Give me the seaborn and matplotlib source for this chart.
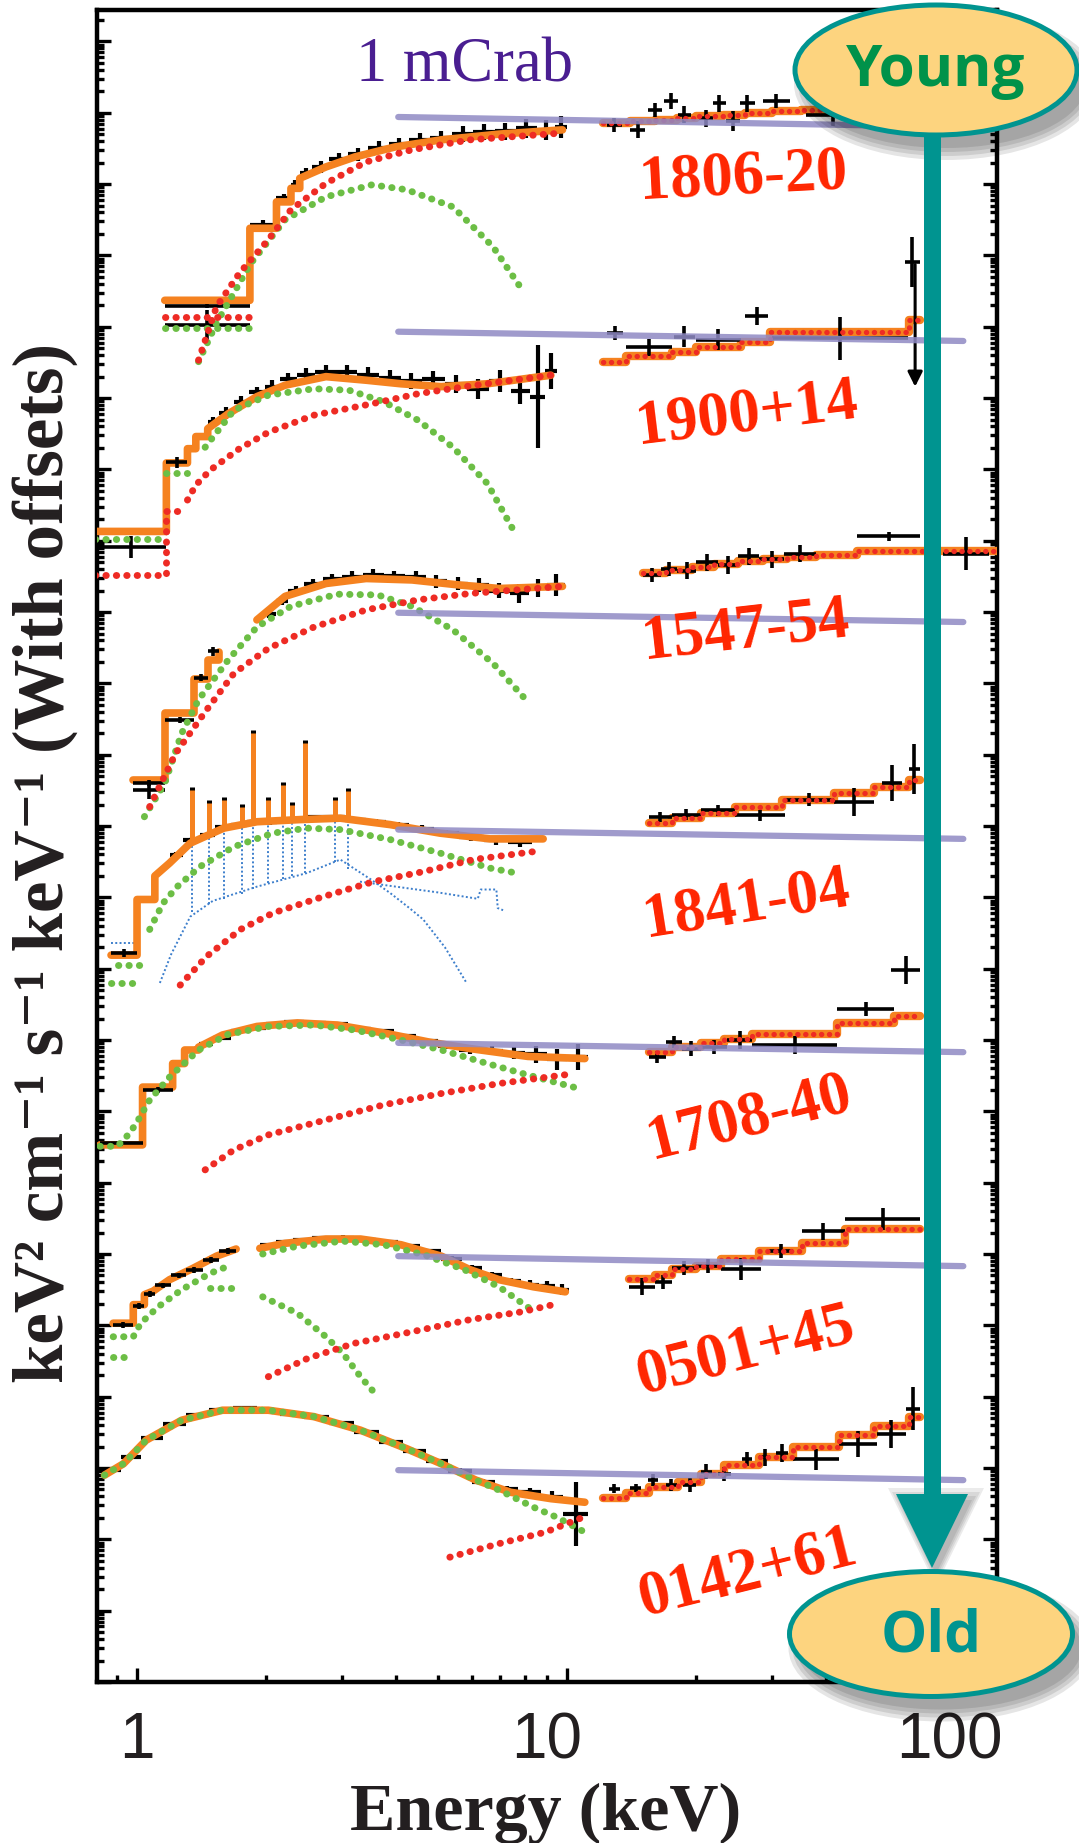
"""
Broad-band spectra of seven magnetars, stacked with offsets (Young -> Old).
"""

import numpy as np
import matplotlib
matplotlib.use("Agg")
import matplotlib.pyplot as plt
import matplotlib.patches as mpatches
from matplotlib.ticker import FixedLocator, LogLocator, NullFormatter
import seaborn as sns

nan = np.nan

# ---------------------------------------------------------------- data
# all fluxes are log10(keV^2 cm^-2 s^-1 keV^-1) plus an arbitrary offset
names = ["1806-20", "1900+14", "1547-54", "1841-04", "1708-40", "0501+45", "0142+61"]

# 1 mCrab reference, 4 -> 84 keV
mcrab_e = [4.05, 83.5]
mcrab_lo = [21.94, 18.93, 14.99, 11.95, 8.96, 5.97, 2.97]
mcrab_hi = [21.80, 18.80, 14.86, 11.82, 8.83, 5.83, 2.83]

# --- SGR 1806-20
p1_tot_e = [1.16, 1.83, 1.83, 2.11, 2.11, 2.28, 2.28, 2.39, 2.39, 2.75, 3.21, 3.98, 5.1, 6.95, 9.76]
p1_tot_y = [19.37, 19.37, 20.38, 20.38, 20.75, 20.75, 20.94, 20.94, 21.08, 21.24, 21.38, 21.52, 21.62, 21.70, 21.76]
p1_bb_e = [1.16, 1.83, nan, 1.39, 1.53, 1.84, 2.21, 2.75, 3.52, 4.24, 5.43, 6.73, 7.86]
p1_bb_y = [18.98, 18.98, nan, 18.51, 19.05, 19.89, 20.50, 20.82, 20.99, 20.92, 20.68, 20.12, 19.52]
p1_pl_e = [1.16, 1.83, nan, 1.39, 1.53, 1.73, 2.02, 2.28, 2.75, 3.41, 4.36, 5.95, 9.5]
p1_pl_y = [19.14, 19.14, nan, 18.53, 19.28, 19.75, 20.22, 20.64, 21.01, 21.31, 21.48, 21.62, 21.71]
p1_hx_e = [12.1, 14, 16, 18, 20, 23, 26, 30, 35, 41, 48, 57, 68, 80]
p1_hx_y = [21.85, 21.88, 21.90, 21.93, 21.95, 21.97, 22.00, 22.02, 22.04, 22.06, 22.09, 22.11, 22.14]
p1_d_e = [1.83, 2.11, 2.28, 2.39, 2.55, 2.8, 3.1, 3.45, 3.85, 4.3, 4.8, 5.4, 6.05, 6.8, 7.6, 8.5, 9.4, 10.0]
p1_d_y = [20.43, 20.80, 20.99, 21.15, 21.24, 21.35, 21.42, 21.51, 21.56, 21.62, 21.64, 21.70, 21.73, 21.74, 21.78, 21.76, 21.80]
p1_d_err = [.06, .06, .07, .08, .08, .08, .09, .09, .09, .10, .10, .11, .11, .12, .13, .14, .15]
p1_x_lo = [1.16, 1.16, 12.4, 14.0, 15.4, 16.8, 18.1, 20.3, 21.8, 23.4, 25.2, 28.5, 36.0]
p1_x_hi = [1.83, 1.83, 13.4, 15.2, 16.6, 18.1, 19.4, 21.8, 23.4, 25.2, 27.3, 33.0, 48.0]
p1_x_y = [19.29, 19.02, 21.83, 21.76, 22.04, 22.16, 21.97, 21.92, 22.13, 21.88, 22.13, 22.16, 21.97]
p1_x_err = [.03, .22, .10, .12, .10, .11, .12, .12, .12, .14, .12, .10, .15]

# --- SGR 1900+14
p2_tot_e = [0.80, 1.17, 1.17, 1.31, 1.31, 1.37, 1.37, 1.46, 1.46, 1.63, 1.90, 2.21, 2.75, 3.41, 4.11, 5.1, 6.53, 9.17]
p2_tot_y = [16.13, 16.13, 17.09, 17.09, 17.29, 17.29, 17.46, 17.46, 17.57, 17.78, 18.02, 18.18, 18.30, 18.25, 18.20, 18.16, 18.20, 18.32]
p2_bb_e = [0.80, 1.17, nan, 1.17, 1.31, nan, 1.44, 1.68, 2.02, 2.58, 3.11, 3.74, 4.5, 5.43, 6.53, 7.5]
p2_bb_y = [16.02, 16.02, nan, 16.95, 16.95, nan, 17.31, 17.83, 18.04, 18.13, 18.11, 17.95, 17.69, 17.31, 16.80, 16.15]
p2_pl_e = [0.80, 1.17, 1.17, 1.31, nan, 1.31, 1.37, 1.48, 1.73, 2.02, 2.58, 3.52, 4.5, 5.95, 9.17]
p2_pl_y = [15.52, 15.52, 16.41, 16.41, nan, 16.57, 16.78, 16.99, 17.29, 17.52, 17.76, 17.92, 18.06, 18.17, 18.32]
p2_hx_e = [12.1, 13.7, 17.5, 19.9, 25.4, 29.7, 62.3, 66.3]
p2_hx_y = [18.51, 18.59, 18.65, 18.71, 18.79, 18.92, 19.10]
p2_d_e = [1.46, 1.55, 1.68, 1.82, 1.98, 2.15, 2.35, 2.6, 2.9, 3.25, 3.65, 4.1, 4.6, 5.2, 5.85, 6.6, 7.4, 8.2, 8.9, 9.5]
p2_d_y = [17.66, 17.79, 17.95, 18.08, 18.16, 18.26, 18.33, 18.36, 18.37, 18.33, 18.28, 18.24, 18.26, 18.20, 18.12, 18.24, 18.10, 18.02, 18.38]
p2_d_err = [.07, .08, .08, .08, .09, .09, .09, .10, .10, .10, .11, .11, .12, .13, .14, .16, .18, .72, .25]
p2_x_lo = [0.80, 1.17, 12.4, 13.7, 17.7, 19.9, 26.0, 30.0, 61.0]
p2_x_hi = [1.17, 1.31, 13.5, 17.5, 19.8, 25.4, 29.3, 62.0, 66.3]
p2_x_y = [15.91, 17.10, 18.91, 18.71, 18.86, 18.82, 19.15, 18.84, 19.91]
p2_x_err = [.15, .08, .10, .12, .15, .15, .12, .30, .35]
p2_ul_e = 64.5
p2_ul_y = [19.91, 18.12]

# --- 1E 1547-54
p3_tot_e = [0.98, 1.16, 1.16, 1.36, 1.36, 1.46, 1.46, 1.55, 1.55, nan, 1.9, 2.21, 2.75, 3.41, 4.36, 5.6, 6.95, 9.76]
p3_tot_y = [12.65, 12.65, 13.59, 13.59, 14.06, 14.06, 14.33, 14.33, 14.44, nan, 14.89, 15.22, 15.40, 15.47, 15.45, 15.38, 15.33, 15.36]
p3_bb_e = [1.04, 1.16, 1.27, 1.39, 1.63, 1.9, 2.28, 2.92, 3.63, 4.36, 5.43, 6.73, 8.11]
p3_bb_y = [12.13, 12.60, 13.30, 13.77, 14.33, 14.79, 15.08, 15.25, 15.24, 15.08, 14.75, 14.28, 13.74]
p3_pl_e = [1.07, 1.23, 1.44, 1.68, 2.02, 2.58, 3.41, 4.5, 5.95, 9.76]
p3_pl_y = [12.27, 13.02, 13.60, 14.14, 14.49, 14.79, 15.03, 15.17, 15.26, 15.36]
p3_hx_e = [15.0, 17.0, 19.5, 22.0, 25.0, 28.5, 32.5, 37.9, 47.2, 100]
p3_hx_y = [15.55, 15.59, 15.63, 15.67, 15.71, 15.74, 15.77, 15.80, 15.85]
p3_d_e = [1.95, 2.1, 2.25, 2.45, 2.7, 3.0, 3.35, 3.75, 4.2, 4.7, 5.25, 5.9, 6.6, 7.35, 8.15, 9.0, 9.9]
p3_d_y = [14.97, 15.16, 15.30, 15.39, 15.46, 15.49, 15.52, 15.50, 15.49, 15.43, 15.40, 15.38, 15.30, 15.26, 15.34, 15.38]
p3_d_err = [.06, .06, .07, .07, .08, .08, .08, .08, .08, .09, .09, .10, .11, .13, .13, .15]
p3_x_lo = [0.98, 0.98, 1.16, 1.36, 1.46, 15.0, 16.5, 18.0, 20.0, 22.5, 25.0, 28.0, 32.0, 47.2, 75.0]
p3_x_hi = [1.16, 1.16, 1.36, 1.46, 1.55, 16.5, 18.0, 20.0, 22.5, 25.0, 28.0, 32.0, 37.9, 66.3, 95.7]
p3_x_y = [12.60, 12.50, 13.49, 14.08, 14.45, 15.52, 15.60, 15.58, 15.70, 15.66, 15.78, 15.74, 15.82, 16.06, 15.82]
p3_x_err = [.04, .12, .04, .05, .06, .10, .10, .12, .12, .12, .12, .12, .12, .06, .23]

# --- 1E 1841-045 (with the SNR Kes 73 thermal emission)
p4_tot_e = [0.87, 1.0, 1.0, 1.10, 1.10, 1.19, 1.33, 1.59, 1.90, 2.39, 2.97, 3.88, 5.07, 6.62, 8.8]
p4_tot_y = [10.19, 10.19, 10.97, 10.97, 11.30, 11.48, 11.76, 11.97, 12.06, 12.09, 12.11, 12.02, 11.90, 11.82, 11.82]
p4_line_e = [1.34, 1.47, 1.59, 1.75, 1.86, 2.02, 2.19, 2.29, 2.46, 2.89, 3.10]
p4_line_lo = [11.76, 11.86, 11.97, 12.02, 12.05, 12.07, 12.08, 12.09, 12.10, 12.11, 12.10]
p4_line_hi = [12.51, 12.32, 12.37, 12.27, 13.30, 12.37, 12.58, 12.30, 13.16, 12.37, 12.49]
p4_bb_e = [0.87, 1.0, nan, 0.905, 1.05, nan, 1.07, 1.15, 1.24, 1.40, 1.68, 2.07, 2.48, 2.97, 3.88, 5.07, 6.62, 7.64]
p4_bb_y = [9.80, 9.80, nan, 10.05, 10.05, nan, 10.55, 10.92, 11.15, 11.43, 11.71, 11.90, 11.97, 11.95, 11.81, 11.62, 11.41, 11.34]
p4_pl_e = [1.26, 1.45, 1.74, 2.07, 2.71, 3.55, 4.63, 6.06, 8.35]
p4_pl_y = [9.77, 10.17, 10.55, 10.78, 11.01, 11.22, 11.36, 11.53, 11.64]
p4_snr_e = [0.87, 1.0, nan, 1.13, 1.2, 1.33, 1.5, 1.9, 2.48, 2.97, 3.5, 3.88, 4.3, 4.63, 5.2, 5.84,
            nan, 3.3, 4.0, 5.0, 6.2, 6.3, 6.85, 6.9, 7.1]
p4_snr_y = [10.36, 10.36, nan, 9.80, 10.20, 10.73, 10.95, 11.15, 11.34, 11.53, 11.25, 11.06, 10.85, 10.69, 10.30, 9.80,
            nan, 11.22, 11.15, 11.07, 10.98, 11.11, 11.11, 10.85, 10.82]
p4_snr_line_lo = [10.80, 10.90, 10.98, 11.05, 11.12, 11.20, 11.26, 11.30, 11.34, 11.50, 11.40]
p4_hx_e = [15.5, 17.5, 20.5, 24.6, 31.6, 41.7, 51.8, 62.3, 66.3]
p4_hx_y = [12.04, 12.11, 12.18, 12.26, 12.37, 12.47, 12.55, 12.64]
p4_d_e = [1.19, 1.28, 1.40, 1.52, 1.65, 1.80, 1.95, 2.12, 2.3, 2.5, 2.75, 3.05, 3.4, 3.8, 4.3, 4.9, 5.6, 6.4, 7.3, 8.3]
p4_d_y = [11.60, 11.80, 11.87, 11.98, 12.02, 12.06, 12.06, 12.09, 12.10, 12.12, 12.12, 12.09, 12.06, 12.01, 11.96, 11.90, 11.84, 11.80, 11.78]
p4_d_err = [.04, .04, .04, .04, .04, .04, .04, .04, .04, .04, .04, .04, .04, .04, .05, .05, .05, .06, .07]
p4_x_lo = [0.87, 15.5, 17.5, 20.5, 24.6, 32.1, 41.7, 54.0, 62.3]
p4_x_hi = [1.0, 17.5, 20.5, 24.6, 32.1, 41.7, 51.8, 60.0, 66.3]
p4_x_y = [10.22, 12.13, 12.16, 12.22, 12.15, 12.37, 12.34, 12.60, 12.80]
p4_x_err = [.05, .07, .08, .08, .08, .09, .20, .25, .35]

# --- 1RXS J1708-40
p5_tot_e = [0.82, 1.03, 1.03, 1.21, 1.21, 1.29, 1.29, 1.39, 1.39, 1.58, 1.90, 2.36, 2.92, 3.74, 4.79, 5.95, 8.11, 11.0]
p5_tot_y = [7.53, 7.53, 8.34, 8.34, 8.67, 8.67, 8.86, 8.86, 8.90, 9.07, 9.19, 9.24, 9.21, 9.10, 8.97, 8.88, 8.77, 8.74]
p5_bb_e = [0.82, 0.9, 0.96, 1.0, 1.07, 1.19, 1.39, 1.63, 2.02, 2.58, 3.21, 4.11, 5.1, 6.53, 8.11, 10.5]
p5_bb_y = [7.51, 7.51, 7.69, 7.85, 8.16, 8.48, 8.86, 9.08, 9.19, 9.21, 9.14, 9.00, 8.86, 8.67, 8.51, 8.33]
p5_pl_e = [1.44, 1.68, 2.02, 2.75, 3.74, 5.1, 6.95, 10.4]
p5_pl_y = [7.18, 7.46, 7.67, 7.88, 8.09, 8.25, 8.39, 8.53]
p5_hx_e = [15.5, 17.5, 20.5, 23.2, 27.0, 42.4, 57.7, 66.3]
p5_hx_y = [8.83, 8.90, 8.96, 9.01, 9.09, 9.24, 9.33]
p5_d_e = [1.39, 1.5, 1.65, 1.82, 2.0, 2.2, 2.45, 2.75, 3.1, 3.5, 3.95, 4.45, 5.0, 5.6, 6.3, 7.1, 8.0, 9.0, 10.0, 11.2]
p5_d_y = [8.95, 9.03, 9.13, 9.17, 9.22, 9.25, 9.24, 9.22, 9.15, 9.12, 9.06, 8.98, 8.92, 8.86, 8.85, 8.82, 8.80, 8.73, 8.76]
p5_d_err = [.03, .03, .03, .03, .03, .03, .03, .03, .03, .03, .03, .03, .04, .05, .06, .08, .12, .15, .18]
p5_x_lo = [0.82, 1.03, 15.5, 17.0, 18.5, 20.5, 23.5, 27.0, 42.4, 56.8]
p5_x_hi = [1.03, 1.21, 17.0, 18.5, 20.5, 23.5, 27.0, 42.4, 57.7, 66.3]
p5_x_y = [7.55, 8.30, 8.76, 8.97, 8.88, 8.90, 9.00, 8.93, 9.44, 9.98]
p5_x_err = [.03, .04, .08, .08, .10, .10, .12, .12, .10, .20]

# --- SGR 0501+4516
p6_tot_e = [0.88, 0.98, 0.98, 1.04, 1.04, 1.09, 1.19, 1.35, 1.53, 1.70, nan,
            1.93, 2.21, 2.75, 3.31, 4.11, 5.1, 5.95, 6.95, 8.36, 9.91]
p6_tot_y = [5.03, 5.03, 5.29, 5.29, 5.43, 5.48, 5.64, 5.80, 5.97, 6.07, nan,
            6.08, 6.15, 6.21, 6.21, 6.13, 5.97, 5.78, 5.64, 5.54, 5.47]
p6_bb_e = [0.88, 0.98, nan, 0.88, 0.98, 1.02, 1.12, 1.27, 1.48, 1.63, nan, 1.48, 1.68, nan,
           1.96, 2.36, 3.01, 3.74, 4.65, 5.77, 6.95, 8.49, nan, 1.96, 2.36, 2.75, 3.01, 3.31, 3.63]
p6_bb_y = [4.56, 4.56, nan, 4.84, 4.84, 5.03, 5.26, 5.50, 5.73, 5.83, nan, 5.52, 5.52, nan,
           6.00, 6.11, 6.18, 6.13, 5.99, 5.78, 5.54, 5.17, nan, 5.40, 5.17, 4.84, 4.61, 4.28, 4.00]
p6_pl_e = [2.02, 2.5, 3.21, 4.36, 5.95, 7.86, 9.6]
p6_pl_y = [4.28, 4.54, 4.75, 4.91, 5.08, 5.19, 5.31]
p6_hx_e = [13.9, 16.0, 17.5, 19.9, 22.8, 27.9, 35.2, 44.3, 66.3]
p6_hx_y = [5.65, 5.71, 5.79, 5.83, 5.93, 6.04, 6.16, 6.35]
p6_d_e = [1.93, 2.1, 2.3, 2.55, 2.85, 3.2, 3.6, 4.05, 4.55, 5.1, 5.7, 6.35, 7.05, 7.8, 8.6, 9.4, 10.1]
p6_d_y = [6.13, 6.17, 6.20, 6.22, 6.23, 6.20, 6.17, 6.11, 6.04, 5.93, 5.80, 5.70, 5.62, 5.57, 5.55, 5.50]
p6_d_err = [.03, .03, .03, .03, .03, .03, .03, .03, .03, .04, .04, .05, .05, .06, .07, .08]
p6_x_lo = [0.88, 0.98, 1.04, 1.10, 1.20, 1.30, 1.42, 1.55, 13.9, 16.0, 17.5, 19.9, 22.8, 29.5, 35.2, 44.3]
p6_x_hi = [0.98, 1.04, 1.10, 1.20, 1.30, 1.42, 1.55, 1.70, 16.0, 17.5, 19.9, 22.8, 28.3, 33.5, 44.3, 66.3]
p6_x_y = [5.00, 5.27, 5.44, 5.56, 5.70, 5.78, 5.92, 6.04, 5.54, 5.61, 5.80, 5.83, 5.79, 6.04, 6.32, 6.49]
p6_x_err = [.04, .04, .04, .04, .04, .04, .04, .04, .12, .10, .10, .10, .15, .10, .12, .15]

# --- 4U 0142+61
p7_tot_e = [0.84, 0.93, 1.05, 1.27, 1.58, 2.02, 2.58, 3.31, 4.24, 5.1, 6.14, 7.39, 9.18, 11.0]
p7_tot_y = [2.90, 3.06, 3.39, 3.67, 3.81, 3.81, 3.72, 3.53, 3.27, 3.06, 2.83, 2.66, 2.57, 2.52]
p7_bb_e = [0.84, 0.93, 1.05, 1.27, 1.58, 2.02, 2.58, 3.31, 4.24, 5.1, 6.14, 6.95, 8.36, 9.46, 11.0]
p7_bb_y = [2.90, 3.06, 3.39, 3.67, 3.81, 3.81, 3.72, 3.53, 3.27, 3.06, 2.83, 2.69, 2.45, 2.31, 2.10]
p7_pl_e = [5.34, 6.95, 8.9, 10.9]
p7_pl_y = [1.75, 1.94, 2.10, 2.31]
p7_hx_e = [12.1, 13.7, 15.5, 18.1, 20.5, 23.2, 27.9, 33.6, 43.0, 51.8, 62.3, 66.3]
p7_hx_y = [2.58, 2.65, 2.73, 2.81, 2.92, 3.04, 3.16, 3.30, 3.46, 3.59, 3.72]
p7_d_e = [0.84, 0.92, 1.02, 1.15, 1.3, 1.47, 1.67, 1.9, 2.15, 2.45, 2.8, 3.2, 3.65, 4.15, 4.7, 5.3, 6.0, 6.8, 7.7, 8.7, 9.8, 11.2]
p7_d_y = [2.97, 3.15, 3.42, 3.62, 3.74, 3.81, 3.84, 3.80, 3.76, 3.72, 3.63, 3.50, 3.37, 3.24, 3.10, 2.96, 2.80, 2.70, 2.66, 2.60, 2.35]
p7_d_err = [.02, .02, .02, .02, .02, .02, .02, .02, .02, .02, .02, .02, .03, .03, .03, .04, .04, .05, .06, .08, .45]
p7_x_lo = [12.5, 14.0, 15.4, 17.0, 18.6, 20.5, 22.5, 25.5, 28.0, 30.6, 33.6, 43.0, 52.6, 61.3]
p7_x_hi = [13.3, 14.9, 16.3, 18.0, 20.0, 21.7, 24.0, 27.0, 29.7, 32.6, 43.0, 52.6, 61.3, 66.3]
p7_x_y = [2.71, 2.72, 2.83, 2.76, 2.76, 2.95, 2.92, 3.13, 3.15, 3.21, 3.12, 3.34, 3.48, 3.83]
p7_x_err = [.06, .06, .08, .08, .10, .10, .10, .10, .12, .12, .15, .18, .20, .30]

# label placement (figure pixels, y from top) and tilt
label_px = [743, 747, 746, 746, 749, 746, 748]
label_py = [178, 415, 632, 905, 1119, 1352, 1574]
label_rot = [3, 7, 6.5, 9, 14, 14, 14]

panels = [
    dict(tot=(p1_tot_e, p1_tot_y), bb=(p1_bb_e, p1_bb_y), pl=(p1_pl_e, p1_pl_y), hx=(p1_hx_e, p1_hx_y),
         d=(p1_d_e, p1_d_y, p1_d_err), x=(p1_x_lo, p1_x_hi, p1_x_y, p1_x_err)),
    dict(tot=(p2_tot_e, p2_tot_y), bb=(p2_bb_e, p2_bb_y), pl=(p2_pl_e, p2_pl_y), hx=(p2_hx_e, p2_hx_y),
         d=(p2_d_e, p2_d_y, p2_d_err), x=(p2_x_lo, p2_x_hi, p2_x_y, p2_x_err)),
    dict(tot=(p3_tot_e, p3_tot_y), bb=(p3_bb_e, p3_bb_y), pl=(p3_pl_e, p3_pl_y), hx=(p3_hx_e, p3_hx_y),
         d=(p3_d_e, p3_d_y, p3_d_err), x=(p3_x_lo, p3_x_hi, p3_x_y, p3_x_err)),
    dict(tot=(p4_tot_e, p4_tot_y), bb=(p4_bb_e, p4_bb_y), pl=(p4_pl_e, p4_pl_y), hx=(p4_hx_e, p4_hx_y),
         d=(p4_d_e, p4_d_y, p4_d_err), x=(p4_x_lo, p4_x_hi, p4_x_y, p4_x_err)),
    dict(tot=(p5_tot_e, p5_tot_y), bb=(p5_bb_e, p5_bb_y), pl=(p5_pl_e, p5_pl_y), hx=(p5_hx_e, p5_hx_y),
         d=(p5_d_e, p5_d_y, p5_d_err), x=(p5_x_lo, p5_x_hi, p5_x_y, p5_x_err)),
    dict(tot=(p6_tot_e, p6_tot_y), bb=(p6_bb_e, p6_bb_y), pl=(p6_pl_e, p6_pl_y), hx=(p6_hx_e, p6_hx_y),
         d=(p6_d_e, p6_d_y, p6_d_err), x=(p6_x_lo, p6_x_hi, p6_x_y, p6_x_err)),
    dict(tot=(p7_tot_e, p7_tot_y), bb=(p7_bb_e, p7_bb_y), pl=(p7_pl_e, p7_pl_y), hx=(p7_hx_e, p7_hx_y),
         d=(p7_d_e, p7_d_y, p7_d_err), x=(p7_x_lo, p7_x_hi, p7_x_y, p7_x_err)),
]

# ---------------------------------------------------------------- style
ORANGE = "#F58220"
GREEN = "#6CBE45"
RED = "#EE2B24"
LAVENDER = "#8F8AC4"
BLUE = "#3D7FCC"
LABEL_RED = "#FF2500"
PURPLE = "#4A1E91"
TEAL = "#009490"
CREAM = "#FDD47F"
DARK = "#231F20"
DOTS = (0, (0.05, 1.45))
SERIF = ["Liberation Serif", "DejaVu Serif"]

sns.set_style("ticks")
plt.rcParams["font.family"] = SERIF

W, H = 1079, 1843
fig = plt.figure(figsize=(W / 100, H / 100), dpi=100)
ax = fig.add_axes([97 / W, 1 - 1682 / H, (997 - 97) / W, (1682 - 10) / H])
ax.set_xscale("log")
ax.set_yscale("log")


def curve(e, y, **kw):
    """Draw a (possibly NaN-broken) curve given in log-flux units."""
    e = np.asarray(e, float)
    y = np.asarray(y, float)
    cuts = np.where(np.isnan(e))[0]
    for seg in np.split(np.arange(len(e)), cuts):
        seg = seg[~np.isnan(e[seg])]
        if len(seg) > 1:
            sns.lineplot(x=e[seg], y=10 ** y[seg], ax=ax, sort=False,
                         estimator=None, legend=False, **kw)


def steps(edges, vals, **kw):
    v = np.asarray(vals, float)
    sns.lineplot(x=np.asarray(edges, float), y=10 ** np.append(v, v[-1]), ax=ax,
                 sort=False, estimator=None, legend=False, drawstyle="steps-post", **kw)


def crosses(lo, hi, y, err, zorder=2, lw=2.6):
    lo, hi, y, err = (np.asarray(a, float) for a in (lo, hi, y, err))
    c = np.sqrt(lo * hi)
    ax.errorbar(c, 10 ** y, xerr=[c - lo, hi - c],
                yerr=[10 ** y - 10 ** (y - err), 10 ** (y + err) - 10 ** y],
                fmt="none", ecolor="black", elinewidth=lw, capsize=0, zorder=zorder)


for i, p in enumerate(panels):
    edges = np.asarray(p["d"][0], float)
    crosses(edges[:-1], edges[1:], p["d"][1], p["d"][2], zorder=2, lw=3.0)
    crosses(*p["x"], zorder=3.5)
    curve(*p["tot"], color=ORANGE, lw=5.5, zorder=3)
    steps(*p["hx"], color=ORANGE, lw=6, zorder=3)
    steps(*p["hx"], color=RED, lw=3.8, linestyle=DOTS, dash_capstyle="round", zorder=4)
    curve(*p["bb"], color=GREEN, lw=5, linestyle=DOTS, dash_capstyle="round", zorder=4)
    curve(*p["pl"], color=RED, lw=5, linestyle=DOTS, dash_capstyle="round", zorder=4)
    curve(mcrab_e, [mcrab_lo[i], mcrab_hi[i]], color=LAVENDER, lw=4.5, alpha=0.85, zorder=5)

# 1841-04: line-rich SNR component and the lines in the total model
curve(p4_snr_e, p4_snr_y, color=BLUE, lw=1.4, linestyle=(0, (1, 1.2)), zorder=2.5)
ax.vlines(p4_line_e, 10 ** np.asarray(p4_snr_line_lo), 10 ** (np.asarray(p4_line_hi) - 0.08),
          color=BLUE, lw=1.4, linestyles=(0, (1, 1.2)), zorder=2.5)
ax.vlines(p4_line_e, 10 ** np.asarray(p4_line_lo), 10 ** (np.asarray(p4_line_hi) + 0.04),
          color="black", lw=3.6, zorder=2.8)
ax.vlines(p4_line_e, 10 ** np.asarray(p4_line_lo), 10 ** np.asarray(p4_line_hi),
          color=ORANGE, lw=3.6, zorder=3)

# 1900+14: upper limit in the last hard bin
ax.annotate("", xy=(p2_ul_e, 10 ** p2_ul_y[1]), xytext=(p2_ul_e, 10 ** p2_ul_y[0]),
            arrowprops=dict(arrowstyle="-|>", color="black", lw=2.2, mutation_scale=22),
            zorder=3.5)

# ---------------------------------------------------------------- axes
ax.set_xlim(0.807, 100)
ax.set_ylim(1, 10 ** 23.44)
ax.xaxis.set_major_locator(FixedLocator([1, 10, 100]))
ax.xaxis.set_major_formatter(NullFormatter())
ax.xaxis.set_minor_locator(LogLocator(base=10, subs=np.arange(2, 10), numticks=60))
ax.xaxis.set_minor_formatter(NullFormatter())
ax.yaxis.set_major_locator(LogLocator(base=10, numticks=60))
ax.yaxis.set_minor_locator(LogLocator(base=10, subs=np.arange(2, 10), numticks=60))
ax.yaxis.set_major_formatter(NullFormatter())
ax.yaxis.set_minor_formatter(NullFormatter())
ax.tick_params(which="both", direction="in", top=False, right=True, width=2.4, color="black")
ax.tick_params(which="major", length=10)
ax.tick_params(which="minor", length=5)
for s in ax.spines.values():
    s.set_linewidth(3.2)
    s.set_color("black")

# tick labels (slightly shifted left in the original layout)
for val, txt, dx in zip([1, 10, 100], ["1", "10", "100"], [0, -15, -34]):
    ax.annotate(txt, xy=(val, 0), xycoords=ax.get_xaxis_transform(), xytext=(dx, -21),
                textcoords="offset points", ha="center", va="top", fontsize=46,
                family=["Liberation Sans", "DejaVu Sans"], color=DARK, annotation_clip=False)

fig.text(546 / W, 1 - 1830 / H, "Energy (keV)", ha="center", va="baseline",
         fontsize=49, fontweight="bold", color=DARK, family=SERIF)
fig.text(45 / W, 1 - 863 / H, "keV\u00b2 cm\u207b\u00b9 s\u207b\u00b9 keV\u207b\u00b9 (With offsets)",
         rotation=90, ha="center", va="center", fontsize=51, fontweight="bold", color=DARK,
         family=SERIF)

# ---------------------------------------------------------------- overlay (pixel space)
ov = fig.add_axes([0, 0, 1, 1], zorder=10)
ov.set_xlim(0, W)
ov.set_ylim(H, 0)
ov.axis("off")
ov.patch.set_alpha(0)

ov.text(465, 82, "1 mCrab", ha="center", va="baseline", fontsize=45, color=PURPLE, family=SERIF)
for name, x, y, r in zip(names, label_px, label_py, label_rot):
    ov.text(x, y, name, ha="center", va="center", rotation=r, rotation_mode="anchor",
            fontsize=45, fontweight="bold", color=LABEL_RED, family=SERIF)

# age arrow with soft shadows
for grow in (0, 8, 16, 24):
    ov.add_patch(mpatches.Ellipse((946, 84), 280 + grow, 128 + grow, fc="black", alpha=0.10, lw=0))
    ov.add_patch(mpatches.Ellipse((941, 1648), 281 + grow, 123 + grow, fc="black", alpha=0.10, lw=0))
    ov.add_patch(mpatches.Polygon([[900 - grow / 2, 1500 - grow / 2], [972 + grow / 2, 1500 - grow / 2],
                                   [936, 1574 + grow / 2]], fc="black", alpha=0.08, lw=0))
ov.add_patch(mpatches.Rectangle((924, 128), 17, 1370, fc=TEAL, lw=0))
ov.add_patch(mpatches.Polygon([[896, 1494], [968, 1494], [932, 1568]], fc=TEAL, lw=0))
ov.add_patch(mpatches.Ellipse((936, 70), 282, 130, fc=CREAM, ec=TEAL, lw=3.6))
ov.add_patch(mpatches.Ellipse((931, 1634), 283, 125, fc=CREAM, ec=TEAL, lw=3.6))
ov.text(936, 86, "Young", ha="center", va="baseline", fontsize=42, fontweight="bold",
        family=["Open Sans", "DejaVu Sans"], color="#00924A")
ov.text(931, 1651, "Old", ha="center", va="baseline", fontsize=42, fontweight="bold",
        family=["Open Sans", "DejaVu Sans"], color=TEAL)

fig.savefig("out.png", dpi=100)
